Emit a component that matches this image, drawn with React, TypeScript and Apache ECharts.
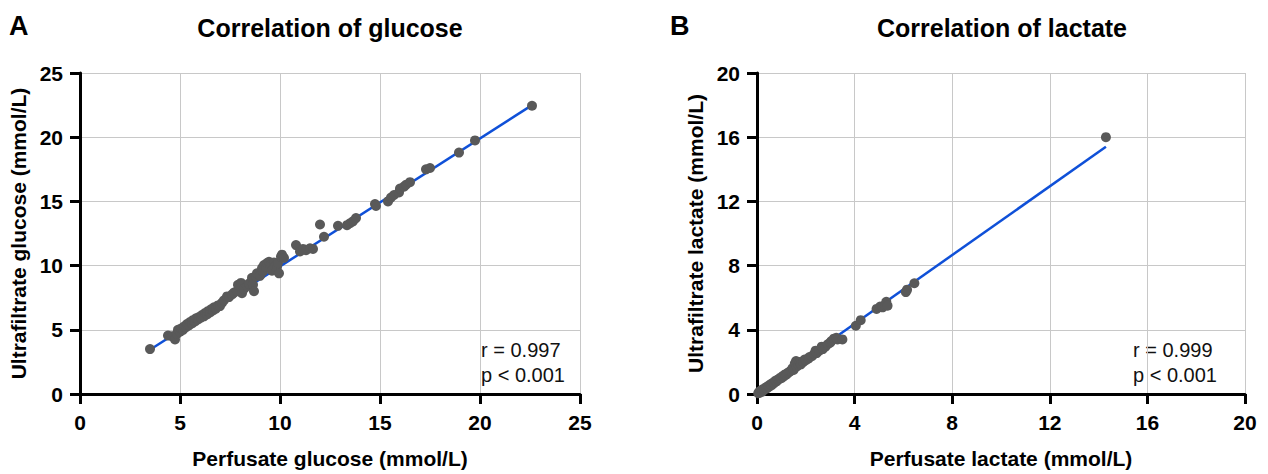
import React, { useEffect, useRef } from "react";
import * as echarts from "echarts";

// Glucose: perfusate (x) vs ultrafiltrate (y), mmol/L
const glucosePoints: [number, number][] = [
  [3.5, 3.5], [4.4, 4.55], [4.6, 4.5], [4.75, 4.25], [4.85, 4.7],
  [4.9, 5.0], [5.0, 4.85], [5.05, 5.1], [5.15, 5.0], [5.2, 5.25], [5.3, 5.2],
  [5.35, 5.45], [5.45, 5.35], [5.5, 5.6], [5.6, 5.5], [5.65, 5.75], [5.75, 5.65],
  [5.8, 5.9], [5.9, 5.8], [5.95, 6.0], [6.05, 5.95], [6.1, 6.15], [6.2, 6.05],
  [6.25, 6.3], [6.35, 6.2], [6.4, 6.45], [6.5, 6.35], [6.55, 6.6], [6.65, 6.5],
  [6.7, 6.75], [6.8, 6.65], [6.9, 6.9], [7.0, 6.85], [7.1, 7.1], [7.2, 7.3],
  [7.35, 7.6], [7.45, 7.55], [7.6, 7.75], [7.7, 7.9], [7.85, 8.0], [7.9, 8.5],
  [8.05, 8.65], [8.1, 7.85], [8.2, 8.2], [8.35, 8.4], [8.45, 8.6], [8.6, 9.05],
  [8.65, 8.5], [8.7, 8.0], [8.8, 9.15], [8.85, 9.4], [9.0, 9.2], [9.1, 9.8],
  [9.15, 9.55], [9.2, 10.05], [9.3, 9.9], [9.35, 10.2], [9.45, 10.3], [9.5, 9.8],
  [9.55, 10.1], [9.6, 9.6], [9.7, 10.25], [9.75, 9.95], [9.85, 9.9], [9.9, 10.2],
  [9.95, 9.4], [10.05, 10.7], [10.1, 10.85], [10.2, 10.6], [10.8, 11.6],
  [11.0, 11.1], [11.15, 11.3], [11.3, 11.2], [11.5, 11.35], [11.65, 11.3],
  [12.0, 13.2], [12.2, 12.25], [12.9, 13.1], [13.35, 13.15], [13.5, 13.3],
  [13.65, 13.45], [13.8, 13.7], [14.75, 14.8], [14.8, 14.65], [15.4, 15.0],
  [15.55, 15.3], [15.7, 15.5], [15.95, 15.7], [16.0, 16.0], [16.2, 16.15],
  [16.3, 16.3], [16.5, 16.5], [17.3, 17.5], [17.5, 17.6], [18.95, 18.8],
  [19.75, 19.75], [22.6, 22.45],
];
const glucoseFit: [number, number][] = [[3.5, 3.45], [22.6, 22.5]];

// Lactate: perfusate (x) vs ultrafiltrate (y), mmol/L
const lactatePoints: [number, number][] = [
  [0.05, 0.05], [0.1, 0.15], [0.12, 0.08], [0.15, 0.2], [0.2, 0.25], [0.22, 0.15],
  [0.25, 0.3], [0.3, 0.28], [0.35, 0.4], [0.4, 0.35], [0.45, 0.5], [0.5, 0.45],
  [0.55, 0.6], [0.6, 0.55], [0.65, 0.7], [0.7, 0.68], [0.75, 0.82], [0.8, 0.78],
  [0.85, 0.9], [0.9, 0.92], [0.95, 1.0], [1.0, 0.98], [1.05, 1.12], [1.1, 1.1],
  [1.15, 1.22], [1.2, 1.2], [1.25, 1.3], [1.3, 1.35], [1.35, 1.4], [1.4, 1.45],
  [1.45, 1.6], [1.5, 1.5], [1.55, 1.9], [1.6, 2.05], [1.62, 1.7], [1.7, 1.8],
  [1.75, 2.0], [1.8, 1.85], [1.9, 2.0], [1.95, 2.15], [2.0, 2.1], [2.1, 2.2],
  [2.15, 2.3], [2.25, 2.35], [2.35, 2.5], [2.4, 2.7], [2.45, 2.55], [2.55, 2.7],
  [2.65, 2.95], [2.7, 2.8], [2.8, 2.95], [2.9, 3.1], [3.0, 3.2], [3.05, 3.3],
  [3.15, 3.45], [3.25, 3.5], [3.3, 3.4], [3.5, 3.4], [4.05, 4.25], [4.25, 4.6],
  [4.9, 5.3], [5.05, 5.45], [5.15, 5.4], [5.25, 5.55], [5.3, 5.75], [5.35, 5.5],
  [6.1, 6.35], [6.15, 6.5], [6.45, 6.9], [14.3, 16.0],
];
const lactateFit: [number, number][] = [[0.05, 0.15], [14.3, 15.4]];

const titles = ["Correlation of glucose", "Correlation of lactate"];
const panelLetters = ["A", "B"];
const xNames = ["Perfusate glucose (mmol/L)", "Perfusate lactate (mmol/L)"];
const yNames = ["Ultrafiltrate glucose (mmol/L)", "Ultrafiltrate lactate (mmol/L)"];
const stats = ["r = 0.997\np < 0.001", "r = 0.999\np < 0.001"];
const axisMax = [25, 20];
const axisInterval = [5, 4];

const FONT = "'Liberation Sans', Arial, sans-serif";

export default function App() {
  const ref = useRef<HTMLDivElement>(null);
  useEffect(() => {
    if (!ref.current) return;
    const chart = echarts.init(ref.current, null, { renderer: "svg" });
    const grids = [
      { left: 80, top: 73, width: 500, height: 324 },
      { left: 757, top: 73, width: 488, height: 324 },
    ];
    const mkAxis = (i: number, kind: "x" | "y") => ({
      type: "value",
      gridIndex: i,
      min: 0,
      max: axisMax[i],
      interval: axisInterval[i],
      name: kind === "x" ? xNames[i] : yNames[i],
      nameLocation: "middle",
      nameGap: kind === "x" ? 54 : 51,
      nameTextStyle: { fontFamily: FONT, fontWeight: "bold", fontSize: 21, color: "#000" },
      axisLine: { show: true, lineStyle: { color: "#000", width: 3 } },
      axisTick: { show: true, length: 10, lineStyle: { color: "#000", width: 3 } },
      axisLabel: { fontFamily: FONT, fontWeight: "bold", fontSize: 21, color: "#000", margin: kind === "x" ? 18 : 17 },
      splitLine: { show: true, lineStyle: { color: "#c8c8c8", width: 1 } },
    });
    const centers = [330, 1002];
    const graphic: any[] = [];
    for (let i = 0; i < 2; i++) {
      graphic.push({
        type: "text",
        x: centers[i],
        y: 28,
        style: { text: titles[i], fontFamily: FONT, fontWeight: "bold", fontSize: 25, fill: "#000", textAlign: "center", textVerticalAlign: "middle" },
      });
      graphic.push({
        type: "text",
        x: i === 0 ? 9 : 670,
        y: 26,
        style: { text: panelLetters[i], fontFamily: FONT, fontWeight: "bold", fontSize: 27, fill: "#000", textAlign: "left", textVerticalAlign: "middle" },
      });
      graphic.push({
        type: "text",
        x: i === 0 ? 481 : 1133,
        y: 337,
        style: { text: stats[i], fontFamily: FONT, fontSize: 20, lineHeight: 25, fill: "#111", textAlign: "left", textVerticalAlign: "top" },
      });
    }
    chart.setOption({
      animation: false,
      backgroundColor: "#fff",
      grid: grids,
      xAxis: [mkAxis(0, "x"), mkAxis(1, "x")],
      yAxis: [mkAxis(0, "y"), mkAxis(1, "y")],
      graphic,
      series: [
        { type: "line", xAxisIndex: 0, yAxisIndex: 0, data: glucoseFit, showSymbol: false, lineStyle: { color: "#0f50d8", width: 2.5 }, z: 2 },
        { type: "scatter", xAxisIndex: 0, yAxisIndex: 0, data: glucosePoints, symbolSize: 10, itemStyle: { color: "#595959", opacity: 1 }, z: 3 },
        { type: "line", xAxisIndex: 1, yAxisIndex: 1, data: lactateFit, showSymbol: false, lineStyle: { color: "#0f50d8", width: 2.5 }, z: 2 },
        { type: "scatter", xAxisIndex: 1, yAxisIndex: 1, data: lactatePoints, symbolSize: 10, itemStyle: { color: "#595959", opacity: 1 }, z: 3 },
      ],
    });
    return () => chart.dispose();
  }, []);
  return (
    <div
      ref={ref}
      style={{ position: "fixed", left: 0, top: 0, width: 1268, height: 474, background: "#fff" }}
    />
  );
}
